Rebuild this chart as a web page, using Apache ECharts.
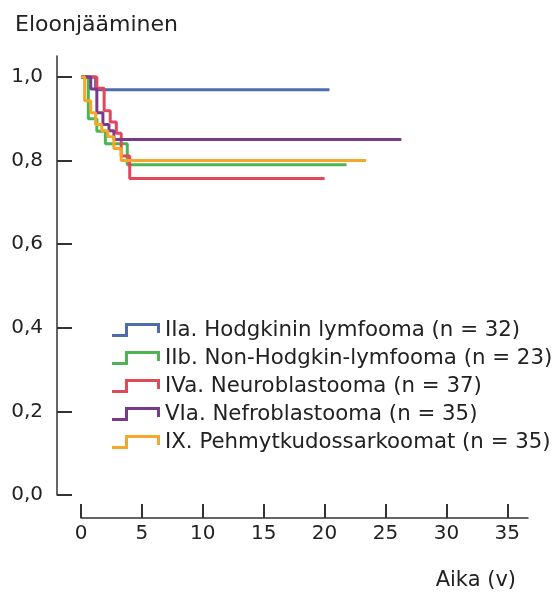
<!DOCTYPE html>
<html>
<head>
<meta charset="utf-8">
<script src="https://cdn.jsdelivr.net/npm/echarts@6/dist/echarts.min.js"></script>
<style>
  html, body { margin: 0; padding: 0; background: #fff; }
  #chart { width: 557px; height: 592px; }
</style>
</head>
<body>
<div id="chart"></div>
<script>
// survival curves (Kaplan-Meier steps), time in years
const seriesNames = [
    'IIa. Hodgkinin lymfooma (n = 32)',
    'IIb. Non-Hodgkin-lymfooma (n = 23)',
    'IVa. Neuroblastooma (n = 37)',
    'VIa. Nefroblastooma (n = 35)',
    'IX. Pehmytkudossarkoomat (n = 35)'
]
const colors = ['#4f6bb0', '#4cb450', '#e2475a', '#7a3a8c', '#f5a72a']

const hodgkinT = [0, 1.2, 20.4]
const hodgkinS = [1, 0.969, 0.969]
const nonHodgkinT = [0, 0.6, 1.3, 2.0, 3.8, 21.8]
const nonHodgkinS = [1, 0.9, 0.87, 0.84, 0.79, 0.79]
const neuroT = [0, 1.3, 1.9, 2.4, 2.9, 3.3, 4.0, 20.0]
const neuroS = [1, 0.973, 0.919, 0.892, 0.865, 0.811, 0.757, 0.757]
const nefroT = [0, 0.8, 1.3, 1.8, 2.3, 2.7, 26.3]
const nefroS = [1, 0.971, 0.914, 0.886, 0.871, 0.85, 0.85]
const sarcomaT = [0, 0.3, 0.8, 1.2, 1.7, 2.2, 2.7, 3.3, 23.4]
const sarcomaS = [1, 0.943, 0.914, 0.886, 0.871, 0.857, 0.829, 0.8, 0.8]

const xTicks = [0, 5, 10, 15, 20, 25, 30, 35]
const yTicks = [0, 0.2, 0.4, 0.6, 0.8, 1.0]

const curves = [
    [hodgkinT, hodgkinS],
    [nonHodgkinT, nonHodgkinS],
    [neuroT, neuroS],
    [nefroT, nefroS],
    [sarcomaT, sarcomaS]
]

const axisColor = '#333'
const textColor = '#222'
const font = 'DejaVu Sans'

// step-shaped legend glyph (filled outline of a thick step line)
const stepIcon = 'path://M0,11 L13,11 L13,0 L48,0 L48,10 L45,10 L45,3 L16,3 L16,14 L0,14 Z'

let chart = echarts.init(document.getElementById('chart'))
chart.setOption({
    animation: false,
    title: [
        {
            text: 'Eloonjääminen',
            left: 10,
            top: 9,
            textStyle: { color: textColor, fontSize: 22, fontWeight: 'normal', fontFamily: font }
        },
        {
            text: 'Aika (v)',
            right: 36,
            top: 565,
            textStyle: { color: textColor, fontSize: 21, fontWeight: 'normal', fontFamily: font }
        }
    ],
    legend: {
        orient: 'vertical',
        left: 107,
        top: 314,
        itemWidth: 48,
        itemHeight: 14,
        itemGap: 6,
        icon: stepIcon,
        textStyle: { color: textColor, fontSize: 21.3, lineHeight: 22, fontFamily: font },
        data: seriesNames.map((n, i) => ({ name: n, itemStyle: { color: colors[i] } }))
    },
    grid: {
        left: 81,
        right: 29,
        top: 56,
        bottom: 97,
        containLabel: false
    },
    xAxis: {
        type: 'value',
        min: 0,
        max: 36.7,
        offset: 23,
        axisLine: { onZero: false, lineStyle: { color: axisColor, width: 1.5 } },
        axisTick: { inside: true, length: 14, customValues: xTicks, lineStyle: { color: axisColor, width: 2 } },
        axisLabel: { customValues: xTicks, margin: 6, color: textColor, fontSize: 20, fontFamily: font },
        splitLine: { show: false }
    },
    yAxis: {
        type: 'value',
        min: 0,
        max: 1.05,
        offset: 24,
        axisLine: { show: true, onZero: false, lineStyle: { color: axisColor, width: 1.5 } },
        axisTick: { show: true, inside: true, length: 15, customValues: yTicks, lineStyle: { color: axisColor, width: 2 } },
        axisLabel: {
            customValues: yTicks,
            margin: 14,
            color: textColor,
            fontSize: 20,
            fontFamily: font,
            formatter: v => v.toFixed(1).replace('.', ',')
        },
        splitLine: { show: false }
    },
    series: curves.map((c, i) => ({
        name: seriesNames[i],
        type: 'line',
        step: 'end',
        showSymbol: false,
        symbol: 'none',
        color: colors[i],
        lineStyle: { color: colors[i], width: 3 },
        data: c[0].map((t, j) => [t, c[1][j]])
    }))
})
</script>
</body>
</html>
